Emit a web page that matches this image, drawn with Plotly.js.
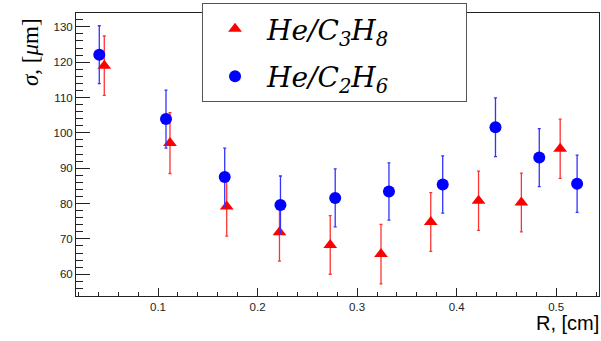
<!DOCTYPE html>
<html>
<head>
<meta charset="utf-8">
<script src="https://cdn.plot.ly/plotly-3.0.1.min.js"></script>
<style>html,body{margin:0;padding:0;background:#fff;}#chart{width:601px;height:341px;}</style>
</head>
<body>
<div id="chart"></div>
<script>
// He/C3H8 (red triangles)
const r_c3h8 = [0.046, 0.112, 0.169, 0.222, 0.273, 0.324, 0.374, 0.422, 0.465, 0.504];
const sigma_c3h8 = [119.0, 97.1, 79.2, 71.9, 68.3, 65.7, 74.8, 80.8, 80.3, 95.5];
const err_c3h8 = [8.4, 8.6, 8.4, 8.2, 8.3, 8.4, 8.3, 8.4, 8.3, 8.4];

// He/C2H6 (blue circles)
const r_c2h6 = [0.041, 0.108, 0.167, 0.223, 0.278, 0.332, 0.386, 0.439, 0.483, 0.521];
const sigma_c2h6 = [122.1, 103.9, 87.5, 79.6, 81.6, 83.4, 85.4, 101.6, 93.0, 85.6];
const err_c2h6 = [8.2, 8.2, 8.2, 8.2, 8.2, 8.1, 8.1, 8.3, 8.2, 8.1];

const legendNames = ['<i>He/C<sub>3</sub>H<sub>8</sub></i>', '<i>He/C<sub>2</sub>H<sub>6</sub></i>'];
const pad = '\u00a0'.repeat(8);

const traces = [
  {
    x: r_c3h8, y: sigma_c3h8, type: 'scatter', mode: 'markers',
    name: legendNames[0] + pad, legendgroup: 'a',
    marker: {symbol: 'triangle-up', size: 12, color: '#ff0000'},
    error_y: {type: 'data', array: err_c3h8, visible: true, color: '#ff3333', thickness: 1.3, width: 1.5}
  },
  {
    x: r_c2h6, y: sigma_c2h6, type: 'scatter', mode: 'markers',
    name: legendNames[1] + pad, legendgroup: 'b',
    marker: {symbol: 'circle', size: 12, color: '#0000ff'},
    error_y: {type: 'data', array: err_c2h6, visible: true, color: '#3333ff', thickness: 1.3, width: 1.5}
  }
];

const axisFont = {family: 'Liberation Sans, Arial, sans-serif', size: 11.5, color: '#222'};

const layout = {
  width: 601, height: 341,
  margin: {l: 76, r: 2, t: 13, b: 45},
  paper_bgcolor: '#fff', plot_bgcolor: '#fff',
  showlegend: true,
  legend: {
    x: 0.241, y: 1.035, xanchor: 'left', yanchor: 'top',
    bgcolor: '#fff', bordercolor: '#555', borderwidth: 1,
    font: {family: 'DejaVu Serif, Liberation Serif, serif', size: 28, color: '#000'},
    itemwidth: 54, traceorder: 'grouped', tracegroupgap: 8
  },
  xaxis: {
    range: [0.0176, 0.543], showgrid: false, zeroline: false,
    showline: true, mirror: true, linecolor: '#222', linewidth: 1,
    ticks: 'inside', ticklen: 8, tickcolor: '#222', dtick: 0.1, tick0: 0,
    tickfont: axisFont,
    minor: {ticks: 'inside', ticklen: 4, dtick: 0.02, tick0: 0, tickcolor: '#222', showgrid: false}
  },
  yaxis: {
    range: [53.85, 133.9], showgrid: false, zeroline: false,
    showline: true, mirror: true, linecolor: '#222', linewidth: 1,
    ticks: 'inside', ticklen: 14, tickcolor: '#222', dtick: 10, tick0: 0,
    tickfont: axisFont,
    minor: {ticks: 'inside', ticklen: 7, dtick: 2, tick0: 0, tickcolor: '#222', showgrid: false}
  },
  annotations: [
    {
      text: '<i>σ</i>, [<i>μ</i>m]', xref: 'paper', yref: 'paper',
      x: (31 - 76) / 523, y: (296 - 52) / 283, xanchor: 'center', yanchor: 'middle',
      textangle: -90, showarrow: false,
      font: {family: 'Liberation Serif, Times New Roman, serif', size: 23, color: '#000'}
    },
    {
      text: 'R, [cm]', xref: 'paper', yref: 'paper',
      x: 1, y: (296 - 323) / 283, xanchor: 'right', yanchor: 'middle', xshift: 2,
      showarrow: false,
      font: {family: 'Liberation Sans, Arial, sans-serif', size: 20, color: '#000'}
    }
  ]
};

Plotly.newPlot('chart', traces, layout, {displayModeBar: false, staticPlot: true});
</script>
</body>
</html>
